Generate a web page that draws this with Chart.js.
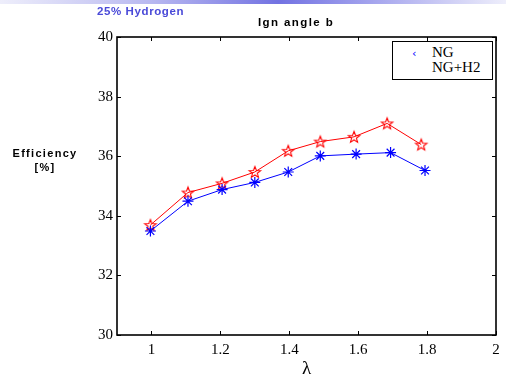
<!DOCTYPE html>
<html>
<head>
<meta charset="utf-8">
<script src="https://cdn.jsdelivr.net/npm/chart.js@4"></script>
<style>
  html, body { margin: 0; padding: 0; background: #fff; }
  #wrap { position: relative; width: 506px; height: 375px; overflow: hidden; }
  #topbar { position: absolute; left: 0; top: 0; width: 506px; height: 4px;
    background: linear-gradient(to right, #eeeefb 0%, #b8b8f0 30%, #7272e2 55%, #a8a8ee 75%, #eeeefb 100%); }
  #c { position: absolute; left: 0; top: 0; }
  .t { position: absolute; white-space: nowrap; }
  #hyd { left: 97px; top: 5px; font: bold 11.5px "Liberation Sans", Arial, sans-serif; color: #4a4ad8; letter-spacing: 0.6px; }
  #ttl { left: 258px; top: 16px; font: bold 11.5px "Liberation Sans", Arial, sans-serif; color: #000; letter-spacing: 1.4px; }
  #ylab { left: 8px; top: 146px; width: 74px; text-align: center; font: bold 11px "Liberation Sans", Arial, sans-serif; color: #000; letter-spacing: 1.3px; line-height: 14px; }
  #leg { position: absolute; left: 392px; top: 41px; width: 99px; height: 37px; border: 1px solid #000; background: #fff;
    font: 15px "Liberation Serif", "Times New Roman", serif; color: #000; }
  #leg .r1 { position: absolute; left: 39px; top: 2px; }
  #leg .r2 { position: absolute; left: 39px; top: 17px; }
  #leg .mk { position: absolute; left: 19px; top: 5px; font: 11px "DejaVu Sans", sans-serif; color: #0000ff; }
</style>
</head>
<body>
<div id="wrap">
  <canvas id="c" width="506" height="375"></canvas>
  <div id="topbar"></div>
  <div class="t" id="hyd">25% Hydrogen</div>
  <div class="t" id="ttl">Ign angle b</div>
  <div class="t" id="ylab">Efficiency<br>[%]</div>
  <div id="leg"><span class="mk">‹</span><span class="r1">NG</span><span class="r2">NG+H2</span></div>
</div>
<script>
// ---- data ----
const lambdaNG   = [0.997, 1.106, 1.205, 1.30, 1.397, 1.49, 1.594, 1.694, 1.794];
const effNG      = [33.49, 34.49, 34.88, 35.12, 35.47, 36.01, 36.07, 36.12, 35.52];
const lambdaNGH2 = [0.997, 1.106, 1.205, 1.30, 1.397, 1.49, 1.588, 1.684, 1.783];
const effNGH2    = [33.69, 34.78, 35.09, 35.47, 36.18, 36.49, 36.65, 37.10, 36.39];
const xTicks = [1, 1.2, 1.4, 1.6, 1.8, 2];
const yTicks = [30, 32, 34, 36, 38, 40];
const seriesNames = ['NG', 'NG+H2'];

// hollow red pentagram marker
function pentagram(color, r) {
  const s = Math.ceil(r * 2 + 4);
  const cv = document.createElement('canvas');
  cv.width = s; cv.height = s;
  const g = cv.getContext('2d');
  const cx = s / 2, cy = s / 2 + 0.5, ri = r * 0.42;
  g.beginPath();
  for (let i = 0; i < 10; i++) {
    const a = -Math.PI / 2 + i * Math.PI / 5;
    const rr = i % 2 === 0 ? r : ri;
    const px = cx + rr * Math.cos(a), py = cy + rr * Math.sin(a);
    if (i === 0) g.moveTo(px, py); else g.lineTo(px, py);
  }
  g.closePath();
  g.strokeStyle = color; g.lineWidth = 1.1; g.stroke();
  return cv;
}
const starImg = pentagram('#ff0000', 6);

const toXY = (xs, ys) => xs.map((x, i) => ({ x: x, y: ys[i] }));

const frameTicks = {
  id: 'frameTicks',
  afterDraw(chart) {
    const { ctx, chartArea: a, scales } = chart;
    ctx.save();
    ctx.strokeStyle = '#000';
    ctx.lineWidth = 1;
    const L = 4;
    xTicks.forEach(v => {
      const px = Math.round(scales.x.getPixelForValue(v)) + 0.5;
      ctx.beginPath();
      ctx.moveTo(px, a.bottom); ctx.lineTo(px, a.bottom - L);
      ctx.moveTo(px, a.top); ctx.lineTo(px, a.top + L);
      ctx.stroke();
    });
    yTicks.forEach(v => {
      const py = Math.round(scales.y.getPixelForValue(v)) + 0.5;
      ctx.beginPath();
      ctx.moveTo(a.left, py); ctx.lineTo(a.left + L, py);
      ctx.moveTo(a.right, py); ctx.lineTo(a.right - L, py);
      ctx.stroke();
    });
    ctx.lineWidth = 1.6;
    ctx.strokeRect(a.left, a.top, a.right - a.left, a.bottom - a.top);
    ctx.restore();
  }
};

new Chart(document.getElementById('c'), {
  type: 'scatter',
  data: {
    datasets: [
      { label: seriesNames[0], data: toXY(lambdaNG, effNG), showLine: true,
        borderColor: '#0000ff', backgroundColor: '#0000ff', borderWidth: 1,
        pointStyle: 'star', pointRadius: 5.5, pointBorderWidth: 1.2, pointBorderColor: '#0000ff' },
      { label: seriesNames[1], data: toXY(lambdaNGH2, effNGH2), showLine: true,
        borderColor: '#ff0000', backgroundColor: '#ff0000', borderWidth: 1,
        pointStyle: starImg, pointRadius: 6 }
    ]
  },
  options: {
    responsive: false,
    animation: false,
    devicePixelRatio: 1,
    layout: { padding: { left: 0, right: 10, top: 37, bottom: 0 } },
    plugins: { legend: { display: false }, title: { display: false }, tooltip: { enabled: false } },
    scales: {
      x: {
        type: 'linear', min: 0.9, max: 2,
        afterBuildTicks: s => { s.ticks = xTicks.map(v => ({ value: v })); },
        afterFit: s => { s.height = 40; },
        grid: { display: false, drawTicks: false },
        border: { display: false },
        ticks: { padding: 6, color: '#000', font: { family: '"Liberation Serif", "Times New Roman", serif', size: 15 },
          callback: v => String(v) },
        title: { display: true, text: 'λ', color: '#000', padding: { top: 0, bottom: -5 },
          font: { family: '"Liberation Serif", "Times New Roman", serif', size: 19 } }
      },
      y: {
        min: 30, max: 40,
        afterBuildTicks: s => { s.ticks = yTicks.map(v => ({ value: v })); },
        afterFit: s => { s.width = 117; },
        grid: { display: false, drawTicks: false },
        border: { display: false },
        ticks: { padding: 4, color: '#000', font: { family: '"Liberation Serif", "Times New Roman", serif', size: 15 } }
      }
    }
  },
  plugins: [frameTicks]
});
</script>
</body>
</html>
